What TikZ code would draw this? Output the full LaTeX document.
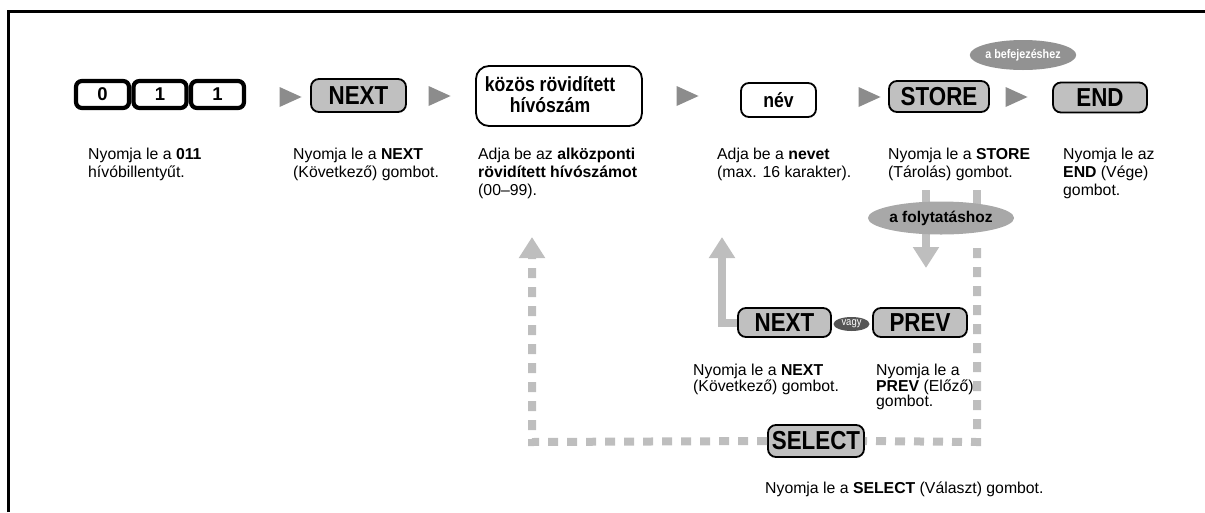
\documentclass[tikz,border=0pt]{standalone}
\usepackage{fontspec}
\setmainfont{Liberation Sans}
\newfontfamily\btnfont[FakeStretch=0.86]{Liberation Sans}
\usetikzlibrary{arrows.meta,shapes.geometric,backgrounds}
\definecolor{btngray}{HTML}{C0C0C0}
\definecolor{trigray}{HTML}{8C8C8C}
\definecolor{flowgray}{HTML}{BEBEBE}
\definecolor{ellgray}{HTML}{A8A8A8}
\definecolor{darkell}{HTML}{929292}
\definecolor{vagygray}{HTML}{555555}
\tikzset{
  keybox/.style={draw, line width=4.2pt, rounded corners=6pt, fill=white,
    minimum width=53pt, minimum height=27pt, inner sep=0pt,
    font=\fontsize{18.5}{18.5}\selectfont\bfseries},
  btn/.style={draw, line width=1.8pt, rounded corners=8pt, fill=btngray, inner sep=0pt,
    font=\btnfont\fontsize{26}{26}\selectfont\bfseries},
  entry/.style={draw, line width=1.8pt, rounded corners=10pt, fill=white, inner sep=0pt,
    font=\btnfont\fontsize{20.5}{21}\selectfont\bfseries, align=center},
  tri/.style={isosceles triangle, isosceles triangle stretches, fill=trigray, draw=none,
    minimum width=20pt, minimum height=22pt, inner sep=0pt, outer sep=0pt},
  desc/.style={anchor=north west, inner sep=0pt, align=left,
    font=\fontsize{15.8}{18}\selectfont},
  descb/.style={anchor=north west, inner sep=0pt, align=left,
    font=\fontsize{15.8}{15.5}\selectfont},
  flow/.style={draw=flowgray, line width=8pt},
  flowdash/.style={draw=flowgray, line width=8pt, dash pattern=on 10pt off 9pt},
  tip/.style={-{Triangle[width=25pt,length=21pt]}},
}
\begin{document}
\begin{tikzpicture}[x=1pt,y=-1pt]
\useasboundingbox (0,0) rectangle (1205,512);
% frame
\draw[line width=3pt] (8.5,512) -- (8.5,11.5) -- (1205,11.5);

% top row
\node[keybox] (k0) at (102.5,94.5) {0};
\node[keybox] (k1) at (160,94.5) {1};
\node[keybox] (k2) at (217.5,94.5) {1};
\node[tri] (t1) at (286,97) {};
\node[btn, minimum width=95pt, minimum height=33pt] (nx1) at (358.5,95.5) {NEXT};
\node[tri] (t2) at (435,96) {};
\node[entry, minimum width=166pt, minimum height=60pt, rounded corners=13pt] (kb) at (559,96) {};
\node[inner sep=0pt, font=\btnfont\fontsize{20.5}{21}\selectfont\bfseries, align=center] (kbt) at (550,95) {közös rövidített\\hívószám};
\node[tri] (t3) at (683,96) {};
\node[entry, minimum width=75pt, minimum height=34pt, rounded corners=8pt] (nev) at (778.5,100) {név};
\node[tri] (t4) at (865,97) {};
\node[btn, minimum width=100pt, minimum height=31pt] (store) at (939,96.5) {STORE};
\node[tri] (t5) at (1012,97) {};
\node[btn, minimum width=94pt, minimum height=30pt] (endb) at (1100,97.5) {END};
\node[ellipse, fill=darkell, minimum width=83pt, minimum height=30pt, inner sep=0pt,
  text=white, font=\btnfont\fontsize{12.5}{12.5}\selectfont\bfseries] (bef) at (1023,55) {a befejezéshez};

% descriptions top
\node[desc] (d1) at (88,148) {Nyomja le a \textbf{011}\\hívóbillentyűt.};
\node[desc] (d2) at (293,148) {Nyomja le a \textbf{NEXT}\\(Következő) gombot.};
\node[desc] (d3) at (478,148) {Adja be az \textbf{alközponti}\\\textbf{rövidített hívószámot}\\(00–99).};
\node[desc] (d4) at (717,148) {Adja be a \textbf{nevet}\\(max. 16 karakter).};
\node[desc] (d5) at (888,148) {Nyomja le a \textbf{STORE}\\(Tárolás) gombot.};
\node[desc] (d6) at (1063,148) {Nyomja le az\\\textbf{END} (Vége)\\gombot.};

% lower part
\node[ellipse, fill=ellgray, minimum width=132pt, minimum height=33pt, inner sep=0pt,
  font=\fontsize{15.5}{15.5}\selectfont\bfseries] (fol) at (941,218) {a folytatáshoz};
\node[btn, minimum width=93pt, minimum height=29pt] (nx2) at (784.5,322.5) {NEXT};
\node[btn, minimum width=94pt, minimum height=29pt] (prev) at (920,322.5) {PREV};
\node[ellipse, fill=vagygray, minimum width=36pt, minimum height=14pt, inner sep=0pt,
  text=white, font=\btnfont\fontsize{11}{11}\selectfont] (vagy) at (851.5,324) {vagy};
\node[btn, minimum width=96pt, minimum height=32pt] (sel) at (816,441) {SELECT};

\coordinate (s1) at (926,190);
\coordinate (s2) at (977,190);
\coordinate (dn) at (926,268);
\coordinate (r1) at (977,248);
\coordinate (rc) at (977,442);
\coordinate (lc) at (532,442);
\coordinate (lt) at (532,237);
\coordinate (nc) at (722,322.5);
\coordinate (nt) at (722,237);

\begin{scope}[on background layer]
\draw[flow] (s1) -- (fol.center -| s1);
\draw[flow] (s2) -- (fol.center -| s2);
\draw[flow, tip] (fol.center -| dn) -- (dn);
\end{scope}
\draw[flowdash] (r1) -- (rc) -- (sel.east);
\draw[flowdash, tip] (sel.west) -- (lc) -- (lt);
\draw[flow, tip] (nx2.west) -- (nc) -- (nt);

\node[descb] (d7) at (693,364) {Nyomja le a \textbf{NEXT}\\(Következő) gombot.};
\node[descb] (d8) at (876,364) {Nyomja le a\\\textbf{PREV} (Előző)\\gombot.};
\node[descb] (d9) at (765,482) {Nyomja le a \textbf{SELECT} (Választ) gombot.};
\end{tikzpicture}
\end{document}
